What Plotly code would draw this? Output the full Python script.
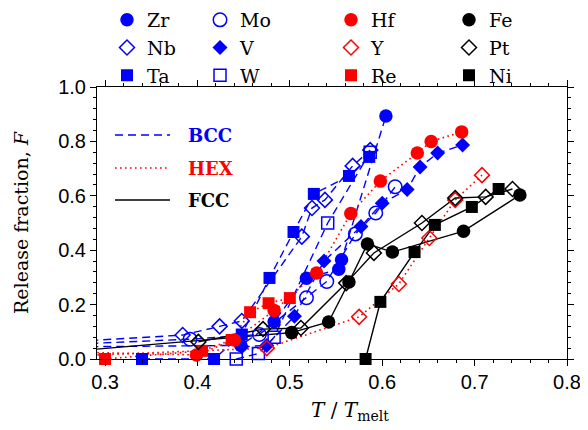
import plotly.graph_objects as go

# ---------------- data (T/Tmelt, release fraction F) ----------------
zr_x = [0.27, 0.447, 0.483, 0.518, 0.553, 0.556, 0.604]
zr_y = [0.045, 0.05, 0.137, 0.297, 0.33, 0.365, 0.893]

nb_x = [0.27, 0.384, 0.424, 0.448, 0.513, 0.524, 0.538, 0.568, 0.587]
nb_y = [0.065, 0.088, 0.12, 0.14, 0.45, 0.555, 0.585, 0.71, 0.768]

ta_x = [0.34, 0.418, 0.448, 0.478, 0.504, 0.526, 0.564, 0.586]
ta_y = [0.0, 0.0, 0.09, 0.298, 0.467, 0.607, 0.673, 0.743]

mo_x = [0.27, 0.392, 0.467, 0.518, 0.54, 0.571, 0.593, 0.614]
mo_y = [0.055, 0.073, 0.09, 0.225, 0.285, 0.46, 0.537, 0.633]

v_x = [0.448, 0.475, 0.505, 0.537, 0.577, 0.60, 0.627, 0.641, 0.66, 0.687]
v_y = [0.045, 0.05, 0.157, 0.36, 0.487, 0.573, 0.623, 0.706, 0.757, 0.787]

w_x = [0.442, 0.466, 0.483, 0.541, 0.587]
w_y = [0.0, 0.02, 0.08, 0.5, 0.76]

hf_x = [0.27, 0.399, 0.44, 0.483, 0.529, 0.566, 0.598, 0.638, 0.653, 0.686]
hf_y = [0.025, 0.015, 0.07, 0.178, 0.316, 0.535, 0.654, 0.757, 0.80, 0.835]

y_x = [0.27, 0.475, 0.575, 0.618, 0.651, 0.679, 0.708]
y_y = [0.012, 0.04, 0.155, 0.276, 0.445, 0.585, 0.676]

re_x = [0.30, 0.405, 0.437, 0.457, 0.477, 0.50]
re_y = [0.0, 0.03, 0.07, 0.172, 0.205, 0.224]

fe_x = [0.27, 0.502, 0.542, 0.564, 0.584, 0.611, 0.688, 0.749]
fe_y = [0.03, 0.097, 0.136, 0.283, 0.423, 0.393, 0.47, 0.603]

pt_x = [0.401, 0.471, 0.512, 0.561, 0.591, 0.643, 0.679, 0.712, 0.741]
pt_y = [0.063, 0.11, 0.114, 0.279, 0.39, 0.5, 0.592, 0.596, 0.625]

ni_x = [0.582, 0.598, 0.635, 0.657, 0.697, 0.726]
ni_y = [0.0, 0.21, 0.393, 0.493, 0.559, 0.625]

x_ticks = [0.3, 0.4, 0.5, 0.6, 0.7, 0.8]
y_ticks = [0.0, 0.2, 0.4, 0.6, 0.8, 1.0]
structure_labels = ["BCC", "HEX", "FCC"]

# ---------------- styles ----------------
BLUE = "#0000ff"
RED = "#ff0000"
BLACK = "#000000"
SERIF = "DejaVu Serif"
SANS = "Liberation Sans"

line_style = {
    "BCC": dict(color=BLUE, width=1.4, dash="8px,5px"),
    "HEX": dict(color=RED, width=1.6, dash="1.6px,3.4px"),
    "FCC": dict(color=BLACK, width=1.4, dash="solid"),
}

series = [
    # name, x, y, structure, symbol, color, legend
    ("Zr", zr_x, zr_y, "BCC", "circle", BLUE, "legend"),
    ("Nb", nb_x, nb_y, "BCC", "diamond-open", BLUE, "legend"),
    ("Ta", ta_x, ta_y, "BCC", "square", BLUE, "legend"),
    ("Mo", mo_x, mo_y, "BCC", "circle-open", BLUE, "legend2"),
    ("V", v_x, v_y, "BCC", "diamond", BLUE, "legend2"),
    ("W", w_x, w_y, "BCC", "square-open", BLUE, "legend2"),
    ("Hf", hf_x, hf_y, "HEX", "circle", RED, "legend3"),
    ("Y", y_x, y_y, "HEX", "diamond-open", RED, "legend3"),
    ("Re", re_x, re_y, "HEX", "square", RED, "legend3"),
    ("Fe", fe_x, fe_y, "FCC", "circle", BLACK, "legend4"),
    ("Pt", pt_x, pt_y, "FCC", "diamond-open", BLACK, "legend4"),
    ("Ni", ni_x, ni_y, "FCC", "square", BLACK, "legend4"),
]

size_for = {"circle": 13.5, "square": 12, "diamond": 11.5}

fig = go.Figure()

# lines first (under all markers)
for name, xs, ys, st, sym, col, lg in series:
    fig.add_trace(go.Scatter(x=xs, y=ys, mode="lines", line=line_style[st],
                             showlegend=False, hoverinfo="skip"))

# markers on top
for name, xs, ys, st, sym, col, lg in series:
    base = sym.replace("-open", "")
    is_open = sym.endswith("-open")
    fig.add_trace(go.Scatter(
        x=xs, y=ys, mode="markers", name=name, legend=lg,
        cliponaxis=False,
        marker=dict(symbol=sym, size=size_for[base], color=col,
                    line=dict(color=col, width=1.5 if is_open else 0)),
    ))

# ---------------- layout ----------------
# the page body adds an 8 px offset; work in page pixels
OFF = 8
PAGE_W, PAGE_H = 588, 430
PL, PR, PT, PB = 97, 567, 87, 359   # plot area in page pixels
W, H = PAGE_W - OFF, PAGE_H - OFF
L, T = PL - OFF, PT - OFF
R = W - (PR - OFF)
B = H - (PB - OFF)
pw, ph = PR - PL, PB - PT


def px_x(px):
    return (px - PL) / pw


def px_y(py):
    return (PB - py) / ph


legend_font = dict(family=SERIF, size=19, color=BLACK)
legend_cols = [("legend", 127), ("legend2", 220), ("legend3", 351), ("legend4", 469)]
legends = {}
for key, cx in legend_cols:
    legends[key] = dict(x=px_x(cx - 20), y=px_y(1), xanchor="left", yanchor="top",
                        orientation="v", font=legend_font, bgcolor="rgba(0,0,0,0)",
                        borderwidth=0, traceorder="normal", itemclick=False,
                        itemdoubleclick=False)

axis_common = dict(showline=True, linecolor=BLACK, linewidth=1, mirror="ticks",
                   ticks="outside", ticklen=6, tickwidth=1, tickcolor=BLACK,
                   showgrid=False, zeroline=False,
                   tickfont=dict(family=SANS, size=20, color=BLACK))

fig.update_layout(
    width=W, height=H,
    margin=dict(l=L, r=R, t=T, b=B, autoexpand=False),
    paper_bgcolor="white", plot_bgcolor="white",
    showlegend=True,
    xaxis=dict(range=[0.2913, 0.8], tickvals=x_ticks,
               ticktext=[f"{v:.1f}" for v in x_ticks],
               ticklabelstandoff=-1,
               minor=dict(dtick=0.02, tick0=0.3, ticks="outside", ticklen=3,
                          tickcolor=BLACK, tickwidth=1),
               **axis_common),
    yaxis=dict(range=[0, 1.0], tickvals=y_ticks,
               ticktext=[f"{v:.1f}" for v in y_ticks],
               minor=dict(dtick=0.04, tick0=0, ticks="outside", ticklen=3,
                          tickcolor=BLACK, tickwidth=1),
               title=dict(text="Release fraction, <i>F</i>",
                          font=dict(family=SERIF, size=19, color=BLACK), standoff=24),
               **axis_common),
    **legends,
)

# x-axis title as annotation (slightly right of center, as in the reference)
fig.add_annotation(x=px_x(350), y=px_y(411), xref="paper", yref="paper",
                   text="<i>T</i> / <i>T</i><sub>melt</sub>", showarrow=False,
                   font=dict(family=SERIF, size=20, color=BLACK),
                   xanchor="center", yanchor="middle")

# structure key (BCC / HEX / FCC)
key_rows = [("BCC", 135), ("HEX", 168), ("FCC", 200)]
key_colors = {"BCC": BLUE, "HEX": RED, "FCC": BLACK}
for lab, py in key_rows:
    ls = line_style[lab]
    fig.add_shape(type="line", xref="paper", yref="paper",
                  x0=px_x(115), x1=px_x(170), y0=px_y(py), y1=px_y(py),
                  line=dict(color=ls["color"], width=ls["width"], dash=ls["dash"]))
    fig.add_annotation(x=px_x(186), y=px_y(py), xref="paper", yref="paper",
                       text=f"<b>{lab}</b>", showarrow=False, xanchor="left",
                       yanchor="middle",
                       font=dict(family=SERIF, size=18, color=key_colors[lab]))

fig.write_html("out.html")
